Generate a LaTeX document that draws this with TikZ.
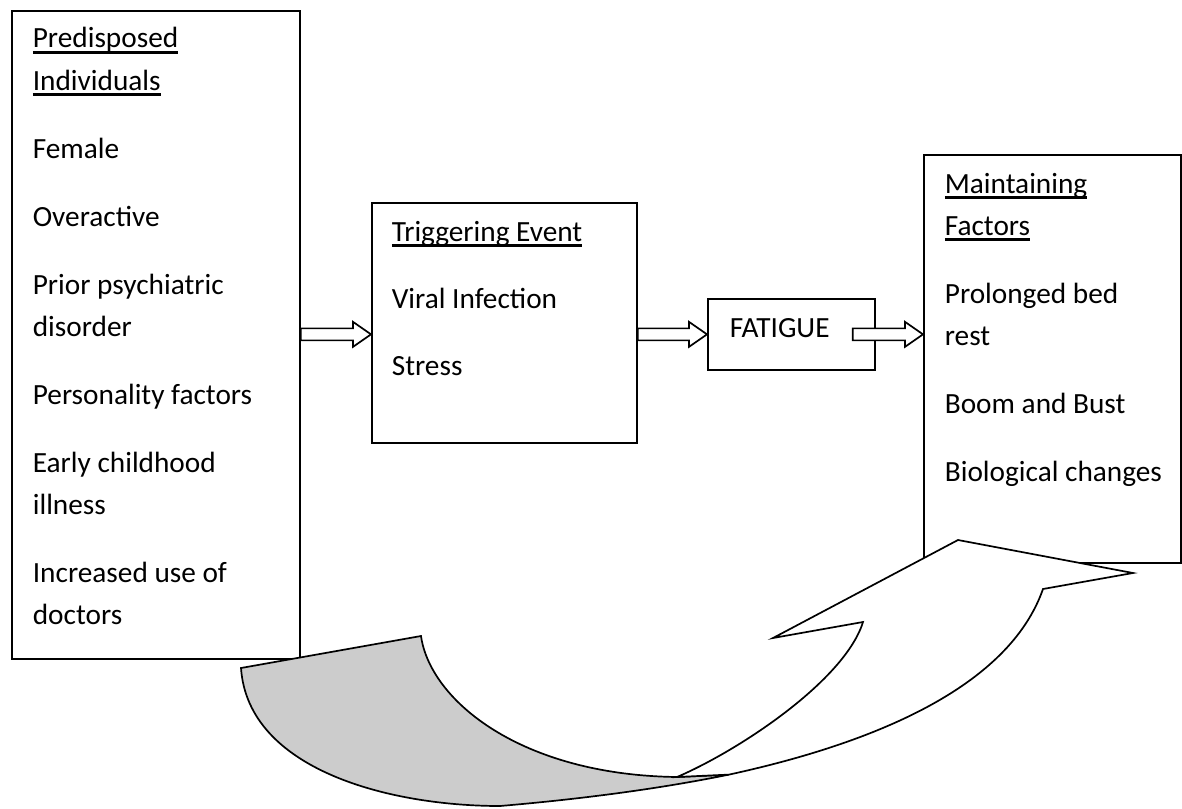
\documentclass[tikz,border=0pt]{standalone}
\usepackage{fontspec}
\setmainfont{Carlito}
\usetikzlibrary{calc}
\definecolor{shade}{RGB}{204,204,204}
% underlined heading
\newcommand{\hdline}[1]{\setbox0\hbox{#1}\rlap{\rule[-6pt]{\wd0}{2.8pt}}\box0}
% open block arrow between two points at the height of the first
\newcommand{\blockarrow}[2]{%
  \draw[fill=white] let \p1=#1, \p2=#2 in
    (\x1,{\y1+6pt}) -- ({\x2-18pt},{\y1+6pt}) -- ({\x2-18pt},{\y1+12.5pt})
    -- (\x2,\y1) -- ({\x2-18pt},{\y1-12.5pt}) -- ({\x2-18pt},{\y1-6pt})
    -- (\x1,{\y1-6pt}) -- cycle;}
\begin{document}
\begin{tikzpicture}[x=1pt,y=-1pt,line width=1.7pt,
    box/.style={draw,anchor=north west,inner sep=0pt},
    txt/.style={anchor=base west,inner sep=0pt,font=\fontsize{29.3}{35}\selectfont}]
  \useasboundingbox (0,0) rectangle (1182,808);

  % boxes
  \node[box,minimum width=288pt,minimum height=648pt] (pred) at (11,10) {};
  \node[box,minimum width=265pt,minimum height=240pt] (trig) at (371,202) {};
  \node[box,minimum width=167pt,minimum height=71pt] (fat) at (707,298) {};
  \node[box,minimum width=257pt,minimum height=408pt] (maint) at (923,154) {};

  % predisposed individuals
  \node[txt] (pred-h1) at (32,48) {\hdline{Predisposed}};
  \node[txt] (pred-h2) at (32,90) {\hdline{Individuals}};
  \foreach \t/\yy [count=\i] in {Female/158, Overactive/226,
      Prior psychiatric/294, disorder/336, Personality factors/404,
      Early childhood/472, illness/514, Increased use of/582, doctors/624}
    \node[txt] (pred-\i) at (32,\yy) {\t};

  % triggering event
  \node[txt] (trig-h) at (391,241) {\hdline{Triggering Event}};
  \node[txt] (trig-1) at (391,308) {Viral Infection};
  \node[txt] (trig-2) at (391,375) {Stress};

  \node[txt] (fat-t) at (729,337) {FATIGUE};

  % maintaining factors
  \node[txt] (maint-h1) at (944,193) {\hdline{Maintaining}};
  \node[txt] (maint-h2) at (944,235) {\hdline{Factors}};
  \foreach \t/\yy [count=\i] in {Prolonged bed/303, rest/345,
      Boom and Bust/413, Biological changes/481}
    \node[txt] (maint-\i) at (944,\yy) {\t};

  % arrows
  \blockarrow{(pred.east |- fat.west)}{(trig.west |- fat.west)}
  \blockarrow{(trig.east |- fat.west)}{(fat.west)}
  \blockarrow{([xshift=-23pt]fat.east)}{(maint.west |- fat.east)}

  % curved arrow back
  \draw[fill=shade] (241,668) -- (421,636)
    .. controls (430,700) and (520,775) .. (677,777) -- (729,774.6)
    .. controls (651,790.5) and (570,800) .. (500,806)
    .. controls (390,806) and (248,770) .. (241,668) -- cycle;
  \draw[fill=white] (729,774.6)
    .. controls (874,743.1) and (1008.6,687.2) .. (1043,589)
    -- (1133,573) -- (958,540) -- (773,638) -- (863,622)
    .. controls (845,680) and (740,750) .. (677,777) -- cycle;
\end{tikzpicture}
\end{document}
